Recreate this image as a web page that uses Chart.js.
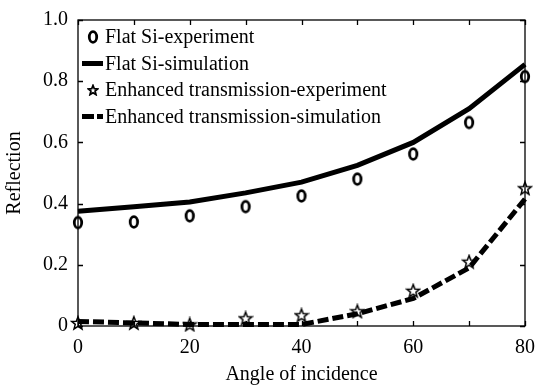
<!DOCTYPE html>
<html>
<head>
<meta charset="utf-8">
<script src="https://cdn.jsdelivr.net/npm/chart.js@4/dist/chart.umd.min.js"></script>
<style>
  html, body { margin: 0; background: #fff; }
  #wrap { width: 538px; height: 389px; }
</style>
</head>
<body>
<div id="wrap"><canvas id="chart"></canvas></div>
<script>
// angulos de incidencia (grados) y reflexion medida / simulada
const angles = [0, 10, 20, 30, 40, 50, 60, 70, 80];
const flatExp = [0.338, 0.34, 0.36, 0.39, 0.425, 0.48, 0.562, 0.665, 0.815];
const flatSim = [0.375, 0.39, 0.405, 0.435, 0.47, 0.525, 0.6, 0.71, 0.855];
const enhExp = [0.01, 0.01, 0.005, 0.025, 0.035, 0.048, 0.115, 0.21, 0.45];
const enhSim = [0.015, 0.01, 0.005, 0.005, 0.005, 0.04, 0.09, 0.19, 0.415];
const minorTicksX = [0, 10, 20, 30, 40, 50, 60, 70, 80];
const majorTicksY = [0, 0.2, 0.4, 0.6, 0.8, 1.0];
const seriesNames = [
  "Flat Si-experiment",
  "Flat Si-simulation",
  "Enhanced transmission-experiment",
  "Enhanced transmission-simulation"
];

const fontFamily = "'Liberation Serif', 'Times New Roman', serif";
const ink = "#000";

const points = (ys) => angles.map((x, i) => ({ x, y: ys[i] }));

// marcadores dibujados aparte: circulo algo ovalado y estrella de cinco puntas
const makeCircle = () => {
  const c = document.createElement("canvas");
  c.width = 12; c.height = 16;
  const g = c.getContext("2d");
  g.lineWidth = 2.8;
  g.strokeStyle = ink;
  g.beginPath();
  g.ellipse(6, 8, 3.7, 5.3, 0, 0, Math.PI * 2);
  g.stroke();
  return c;
};

const makeStar = (size, rOut, rIn, lw) => {
  const c = document.createElement("canvas");
  c.width = size; c.height = size;
  const g = c.getContext("2d");
  g.lineWidth = lw;
  g.strokeStyle = ink;
  g.beginPath();
  for (let i = 0; i < 10; i++) {
    const r = i % 2 ? rIn : rOut;
    const a = -Math.PI / 2 + i * Math.PI / 5;
    const px = size / 2 + r * Math.cos(a);
    const py = size / 2 + 0.5 + r * Math.sin(a);
    if (i) g.lineTo(px, py); else g.moveTo(px, py);
  }
  g.closePath();
  g.stroke();
  return c;
};

const circleMark = makeCircle();
const starMark = makeStar(16, 6.8, 2.9, 1.5);
const starSmall = makeStar(12, 5, 2.2, 1.8);

// caja completa con marcas hacia dentro en los cuatro lados
const frame = {
  id: "frame",
  afterDraw(chart) {
    const { ctx, chartArea: a, scales: { x, y } } = chart;
    ctx.save();
    ctx.strokeStyle = ink;
    ctx.lineWidth = 1.3;
    ctx.strokeRect(a.left, a.top, a.right - a.left, a.bottom - a.top);
    ctx.beginPath();
    minorTicksX.forEach((v) => {
      const px = Math.round(x.getPixelForValue(v)) + 0.5;
      ctx.moveTo(px, a.bottom); ctx.lineTo(px, a.bottom - 5);
      ctx.moveTo(px, a.top); ctx.lineTo(px, a.top + 5);
    });
    majorTicksY.forEach((v) => {
      const py = Math.round(y.getPixelForValue(v)) + 0.5;
      ctx.moveTo(a.left, py); ctx.lineTo(a.left + 5, py);
      ctx.moveTo(a.right, py); ctx.lineTo(a.right - 5, py);
    });
    ctx.stroke();
    ctx.restore();
  }
};

// leyenda dentro del area de la grafica, arriba a la izquierda
const insideLegend = {
  id: "insideLegend",
  afterDraw(chart) {
    const { ctx, chartArea: a } = chart;
    const x0 = a.left + 4;
    const rowH = 26.5;
    ctx.save();
    ctx.font = "20px " + fontFamily;
    ctx.fillStyle = ink;
    ctx.textBaseline = "middle";
    seriesNames.forEach((name, i) => {
      const cy = a.top + 17 + i * rowH;
      if (i === 0) ctx.drawImage(circleMark, x0 + 5, cy - 8);
      if (i === 2) ctx.drawImage(starSmall, x0 + 5, cy - 6);
      if (i === 1 || i === 3) {
        ctx.strokeStyle = ink;
        ctx.lineWidth = 5;
        ctx.setLineDash(i === 3 ? [12, 3] : []);
        ctx.beginPath();
        ctx.moveTo(x0, cy);
        ctx.lineTo(x0 + 21, cy);
        ctx.stroke();
        ctx.setLineDash([]);
      }
      ctx.fillText(name, x0 + 23, cy + 1);
    });
    ctx.restore();
  }
};

new Chart(document.getElementById("chart"), {
  type: "line",
  data: {
    datasets: [
      {
        label: seriesNames[1], data: points(flatSim),
        borderColor: ink, borderWidth: 5, pointRadius: 0, tension: 0, order: 2
      },
      {
        label: seriesNames[3], data: points(enhSim),
        borderColor: ink, borderWidth: 5, borderDash: [11, 4], pointRadius: 0, tension: 0, order: 2
      },
      {
        label: seriesNames[0], data: points(flatExp), showLine: false,
        pointStyle: circleMark, pointRadius: 6, order: 1
      },
      {
        label: seriesNames[2], data: points(enhExp), showLine: false,
        pointStyle: starMark, pointRadius: 7, order: 1
      }
    ]
  },
  options: {
    responsive: true,
    maintainAspectRatio: false,
    animation: false,
    clip: false,
    layout: { padding: { left: 0, right: 13, top: 20, bottom: 0 } },
    plugins: { legend: { display: false }, tooltip: { enabled: false } },
    scales: {
      x: {
        type: "linear", min: 0, max: 80,
        grid: { display: false, drawTicks: false },
        border: { display: false },
        ticks: { stepSize: 20, color: ink, padding: 10, font: { family: fontFamily, size: 20 } },
        title: {
          display: true, text: "Angle of incidence", color: ink,
          font: { family: fontFamily, size: 20 }, padding: { top: 0, bottom: 2 }
        },
        afterFit: (s) => { s.height = 63; s.paddingLeft = 0; s.paddingRight = 0; }
      },
      y: {
        min: 0, max: 1,
        grid: { display: false, drawTicks: false },
        border: { display: false },
        ticks: {
          stepSize: 0.2, color: ink, padding: 10, font: { family: fontFamily, size: 20 },
          callback: (v) => (v === 0 ? "0" : v.toFixed(1))
        },
        title: {
          display: true, text: "Reflection", color: ink,
          font: { family: fontFamily, size: 20 }, padding: { top: 3, bottom: 0 }
        },
        afterFit: (s) => { s.width = 78; s.paddingTop = 0; s.paddingBottom = 0; }
      }
    }
  },
  plugins: [frame, insideLegend]
});
</script>
</body>
</html>
